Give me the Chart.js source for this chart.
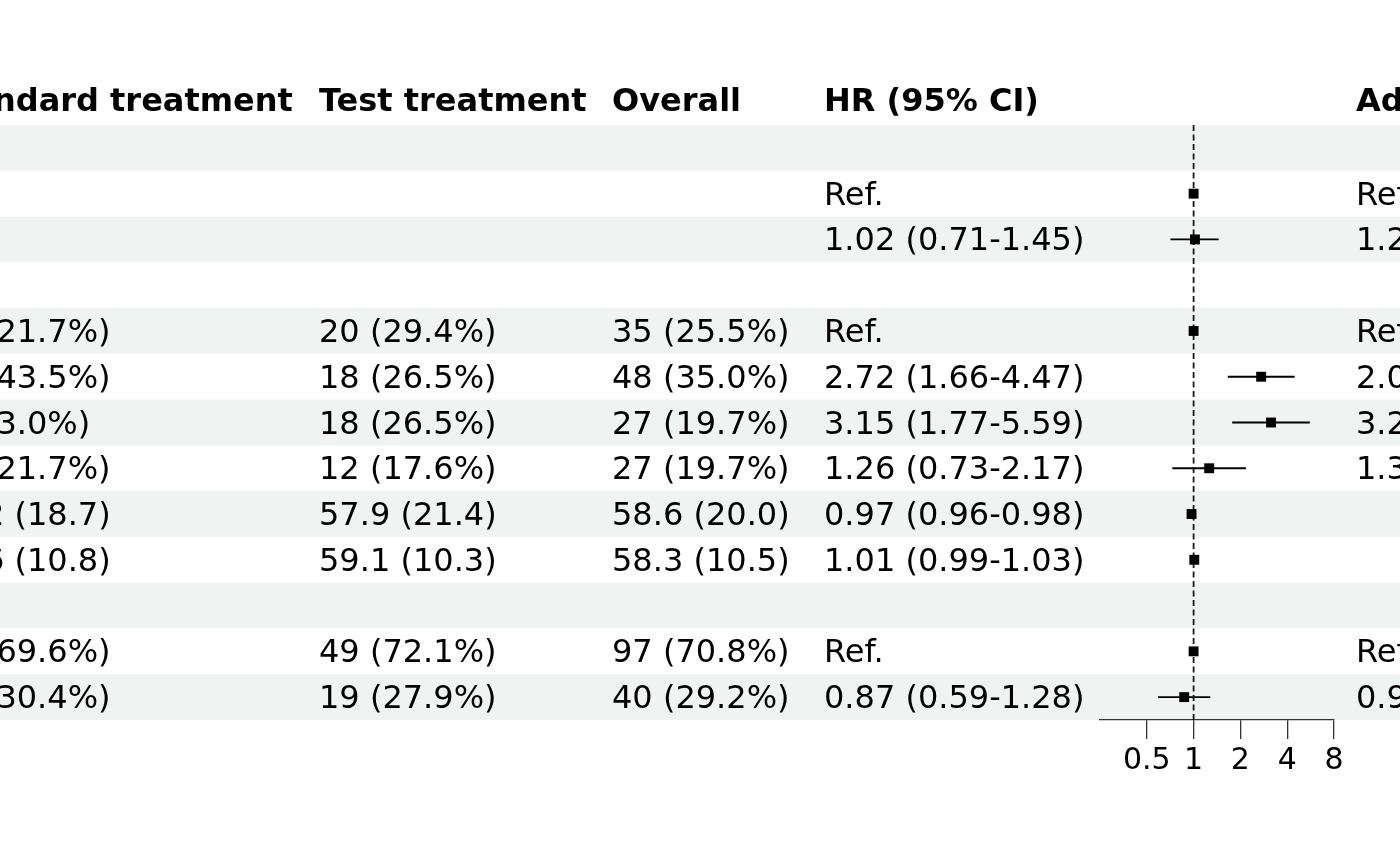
<!DOCTYPE html>
<html><head><meta charset="utf-8">
<script src="https://cdn.jsdelivr.net/npm/chart.js@4.4.1/dist/chart.umd.min.js"></script>
<style>html,body{margin:0;padding:0;background:#fff;overflow:hidden}canvas{display:block}</style>
</head><body>
<canvas id="c" width="1400" height="865"></canvas>
<script>
// ---------- data ----------
const headers = ["Standard treatment", "Test treatment", "Overall", "HR (95% CI)", "Adjusted HR (95% CI)"];
const standardTreatment = ["", "", "", "", "15 (21.7%)", "30 (43.5%)", "9 (13.0%)", "15 (21.7%)", "59.2 (18.7)", "57.6 (10.8)", "", "48 (69.6%)", "21 (30.4%)"];
const testTreatment = ["", "", "", "", "20 (29.4%)", "18 (26.5%)", "18 (26.5%)", "12 (17.6%)", "57.9 (21.4)", "59.1 (10.3)", "", "49 (72.1%)", "19 (27.9%)"];
const overall = ["", "", "", "", "35 (25.5%)", "48 (35.0%)", "27 (19.7%)", "27 (19.7%)", "58.6 (20.0)", "58.3 (10.5)", "", "97 (70.8%)", "40 (29.2%)"];
const hrText = ["", "Ref.", "1.02 (0.71-1.45)", "", "Ref.", "2.72 (1.66-4.47)", "3.15 (1.77-5.59)", "1.26 (0.73-2.17)", "0.97 (0.96-0.98)", "1.01 (0.99-1.03)", "", "Ref.", "0.87 (0.59-1.28)"];
const adjHrText = ["", "Ref.", "1.2", "", "Ref.", "2.0", "3.2", "1.3", "", "", "", "Ref.", "0.9"];
const hrEst = [null, 1, 1.02, null, 1, 2.72, 3.15, 1.26, 0.97, 1.01, null, 1, 0.87];
const hrLow = [null, null, 0.71, null, null, 1.66, 1.77, 0.73, 0.96, 0.99, null, null, 0.59];
const hrHigh = [null, null, 1.45, null, null, 4.47, 5.59, 2.17, 0.98, 1.03, null, null, 1.28];
const xTicks = [0.5, 1, 2, 4, 8];
const xLimits = [0.25, 8];
const refValue = 1;

// ---------- layout ----------
const nRows = hrEst.length;
const FONT = '"DejaVu Sans", sans-serif';
const colLeft = [-67, 319, 612, 824, 1356];
const columns = [standardTreatment, testTreatment, overall, hrText, adjHrText];

const tablePlugin = {
  id: 'forestTable',
  beforeDraw(chart) {
    const { ctx, scales: { y } } = chart;
    ctx.save();
    ctx.fillStyle = '#eff3f2';
    for (let i = 0; i < nRows; i += 2) {
      const t = y.getPixelForValue(i - 0.5), b = y.getPixelForValue(i + 0.5);
      ctx.fillRect(0, t, chart.width, b - t);
    }
    ctx.restore();
  },
  beforeDatasetsDraw(chart) {
    const { ctx, scales: { x, y } } = chart;
    ctx.save();
    ctx.strokeStyle = '#000';
    ctx.lineWidth = 1.8;
    for (let i = 0; i < nRows; i++) {
      if (hrLow[i] == null || hrHigh[i] == null) continue;
      const py = y.getPixelForValue(i);
      ctx.beginPath();
      ctx.moveTo(x.getPixelForValue(hrLow[i]), py);
      ctx.lineTo(x.getPixelForValue(hrHigh[i]), py);
      ctx.stroke();
    }
    ctx.restore();
  },
  afterDraw(chart) {
    const { ctx, scales: { y } } = chart;
    ctx.save();
    ctx.fillStyle = '#000';
    ctx.textAlign = 'left';
    ctx.textBaseline = 'alphabetic';
    ctx.font = 'bold 32px ' + FONT;
    const hy = y.getPixelForValue(-1) + 8.5;
    headers.forEach((h, c) => ctx.fillText(h, colLeft[c], hy));
    ctx.font = '32px ' + FONT;
    for (let i = 0; i < nRows; i++) {
      const by = y.getPixelForValue(i) + 11;
      columns.forEach((col, c) => { if (col[i]) ctx.fillText(col[i], colLeft[c], by); });
    }
    ctx.restore();
  }
};

const points = [];
hrEst.forEach((v, i) => { if (v != null) points.push({ x: v, y: i }); });

new Chart(document.getElementById('c'), {
  type: 'scatter',
  data: {
    datasets: [
      {
        data: points,
        pointStyle: 'rect',
        pointRadius: 7,
        backgroundColor: '#000',
        borderWidth: 0,
        order: 1
      },
      {
        data: [{ x: refValue, y: -0.5 }, { x: refValue, y: nRows - 0.5 }],
        showLine: true,
        borderColor: '#1a1a1a',
        borderWidth: 1.8,
        borderDash: [6, 3.5],
        pointRadius: 0,
        order: 2
      }
    ]
  },
  options: {
    responsive: false,
    animation: false,
    events: [],
    layout: { padding: { left: 1100, right: 66, top: 125, bottom: 85 } },
    plugins: { legend: { display: false }, tooltip: { enabled: false } },
    scales: {
      x: {
        type: 'logarithmic',
        min: xLimits[0],
        max: xLimits[1],
        afterBuildTicks: s => { s.ticks = xTicks.map(v => ({ value: v })); },
        afterFit: s => { s.height = 60; },
        grid: { drawOnChartArea: false, drawTicks: true, tickLength: 19, color: '#333', lineWidth: 1.3 },
        border: { display: true, color: '#333', width: 1.3 },
        ticks: {
          color: '#000',
          font: { family: FONT, size: 30 },
          padding: 4,
          maxRotation: 0,
          autoSkip: false,
          callback: v => String(v)
        }
      },
      y: {
        type: 'linear',
        display: false,
        reverse: true,
        min: -0.5,
        max: nRows - 0.5
      }
    }
  },
  plugins: [tablePlugin]
});
</script>
</body></html>
